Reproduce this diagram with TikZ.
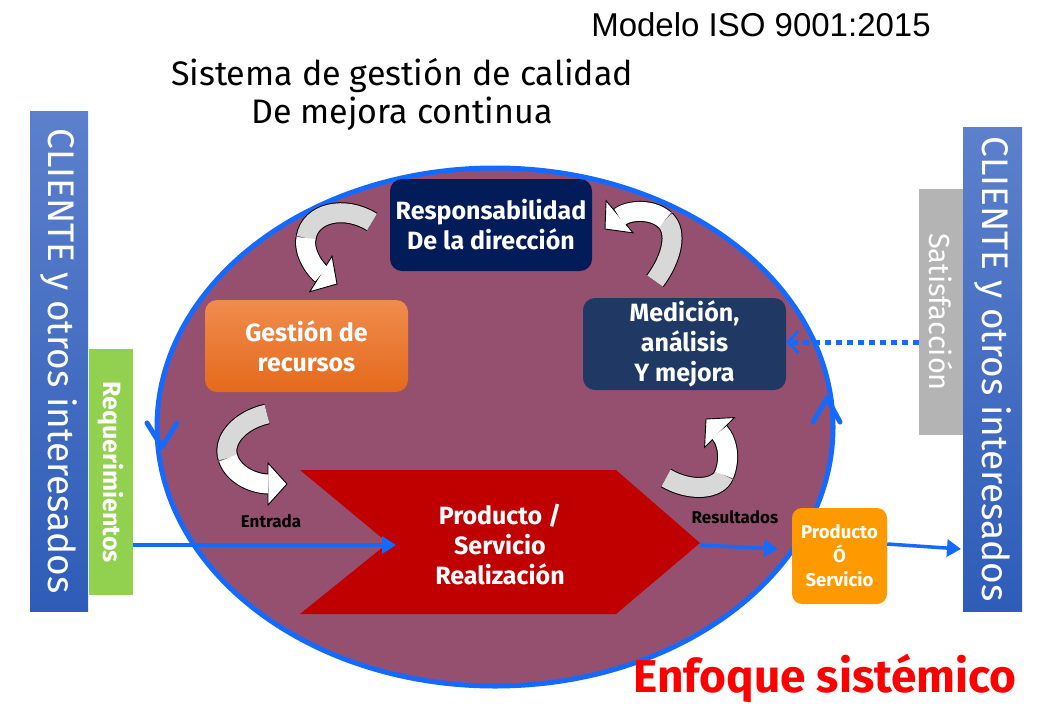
\documentclass[tikz,border=0pt]{standalone}
\usepackage{fontspec}
\setmainfont{Fira Sans}
\newfontfamily\arialf{Liberation Sans}
\usetikzlibrary{arrows.meta,shapes.geometric}
\definecolor{eblue}{RGB}{20,105,255}
\definecolor{emauve}{RGB}{149,80,112}
\definecolor{navyc}{RGB}{2,28,90}
\definecolor{medc}{RGB}{31,56,100}
\definecolor{orTop}{RGB}{240,140,78}
\definecolor{orBot}{RGB}{228,106,28}
\definecolor{redc}{RGB}{192,0,0}
\definecolor{orangec}{RGB}{255,153,0}
\definecolor{greenc}{RGB}{146,208,80}
\definecolor{grayc}{RGB}{180,180,180}
\definecolor{barTop}{RGB}{92,128,204}
\definecolor{barBot}{RGB}{46,92,184}
\definecolor{arrgray}{RGB}{216,216,216}
% #1 grey part, #2 white part (ends at the tip), #3 tip point, #4 canvas angle of the tip
\newcommand{\bentarrow}[4]{%
  \draw[line width=21pt, black] #1;
  \draw[line width=21pt, black, shorten >=18pt] #2;
  \draw[line width=19pt, arrgray] #1;
  \filldraw[fill=white, draw=black, line width=0.9pt, shift={#3}, rotate=#4]
     (0,0) -- (-19,-21) -- (-19,21) -- cycle;
  \draw[line width=19pt, white, shorten >=18.6pt] #2;
}
\begin{document}
\begin{tikzpicture}[x=1pt,y=-1pt,
  box/.style={draw=none, rounded corners=12pt, text=white, align=center,
    font=\bfseries\fontsize{25}{30}\selectfont, inner sep=0pt},
  bar/.style={rotate=-90, inner sep=0pt, text=white},
  flow/.style={draw=eblue, line width=3.5pt, -{Triangle[length=14pt, width=17pt]}},
  small/.style={font=\bfseries\fontsize{17}{18}\selectfont, text=black}
]
\useasboundingbox (0,0) rectangle (1064,720);
\fill[white] (0,0) rectangle (1064,720);

% titles
\node[font=\arialf\fontsize{33}{36}\selectfont] (iso) at (761,25) {Modelo ISO 9001:2015};
\node[font=\fontsize{34}{38}\selectfont, align=center] (sis) at (402,94) {Sistema de gestión de calidad\\De mejora continua};

% big cycle ellipse
\node[ellipse, draw=eblue, line width=5pt, fill=emauve, minimum width=676pt, minimum height=518pt, inner sep=0pt] (cyc) at (495,427) {};
\draw[eblue, line width=5pt, line cap=round, line join=round] (147,423) -- (162,447) -- (177,423);
\draw[eblue, line width=5pt, line cap=round, line join=round] (813,422) -- (827,398) -- (840,422);

% side bars
\node[bar, minimum width=500pt, minimum height=58pt, top color=barTop, bottom color=barBot,
  font=\fontsize{37}{40}\selectfont] (cliL) at (59,361) {CLIENTE y otros interesados};
\node[bar, minimum width=484pt, minimum height=59pt, top color=barTop, bottom color=barBot,
  font=\fontsize{37}{40}\selectfont] (cliR) at (992.5,369) {CLIENTE y otros interesados};
\node[bar, minimum width=246pt, minimum height=44pt, fill=greenc,
  font=\bfseries\fontsize{25}{27}\selectfont] (req) at (111,472) {Requerimientos};
\node[bar, minimum width=246pt, minimum height=44pt, fill=grayc,
  font=\fontsize{29}{31}\selectfont] (sat) at (941,312) {Satisfacción};

% process boxes
\node[box, fill=navyc, minimum width=202pt, minimum height=92pt] (resp) at (491,225) {Responsabilidad\\De la dirección};
\node[box, top color=orTop, bottom color=orBot, minimum width=203pt, minimum height=92pt] (gest) at (306.5,346) {Gestión de\\recursos};
\node[box, fill=medc, minimum width=203pt, minimum height=92pt] (med) at (684.5,344) {Medición,\\análisis\\Y mejora};

% realization chevron
\fill[redc] (300,470) -- (616,470) -- (700,543) -- (616,614) -- (300,614) -- (388,543) -- cycle;
\coordinate (notch) at (396,545);
\coordinate (tip) at (700,545);
\node[box, fill=none] (real) at (500,545) {Producto /\\Servicio\\Realización};

\node[box, fill=orangec, minimum width=95pt, minimum height=96pt, rounded corners=10pt,
  font=\bfseries\fontsize{18.5}{24}\selectfont] (prod) at (839.5,556) {Producto\\Ó\\Servicio};

\node[small] (ent) at (271,521) {Entrada};
\node[small] (res) at (735,517) {Resultados};

% flows
\draw[flow] (req.north |- notch) -- (notch);
\coordinate (pin) at (778,549);
\draw[flow] (tip) -- (pin);
\coordinate (rin) at (961,549);
\draw[flow] (prod.east |- 0,544) -- (rin);
\draw[draw=eblue, line width=5pt, dash pattern=on 6pt off 5pt,
  -{Straight Barb[length=10pt, width=22pt, line width=3pt]}] (sat.south |- 0,342) -- (med.east |- 0,342);

% bent arrows of the improvement cycle
\bentarrow{(372,222) .. controls (345,205) and (310,212) .. (306,238)}{(306,238) .. controls (303,255) and (318,272) .. (337,284)}{(337,284)}{-32}
\bentarrow{(655,281) .. controls (672,258) and (678,232) .. (665,220)}{(665,220) .. controls (652,208) and (628,210) .. (605,229)}{(605,229)}{-140}
\bentarrow{(267,414) .. controls (240,420) and (222,440) .. (228,458)}{(228,458) .. controls (234,476) and (255,484) .. (287,484)}{(287,484)}{0}
\bentarrow{(666,478) .. controls (690,492) and (718,490) .. (724,475)}{(724,475) .. controls (731,458) and (727,440) .. (706,419)}{(706,419)}{135}

\node[text=red, font=\bfseries\fontsize{46}{50}\selectfont] (enf) at (825,678) {Enfoque sistémico};
\end{tikzpicture}
\end{document}
